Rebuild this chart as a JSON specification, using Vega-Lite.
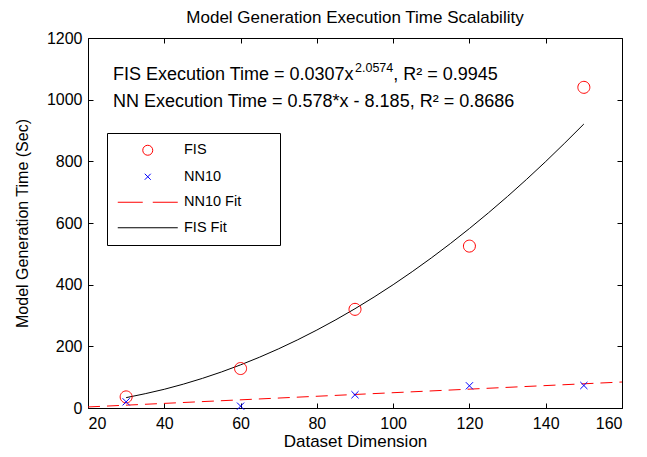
{
  "$schema": "https://vega.github.io/schema/vega-lite/v6.json",
  "width": 534,
  "height": 370,
  "autosize": {"type": "none"},
  "padding": {"left": 88, "top": 38, "right": 25, "bottom": 49},
  "background": "white",
  "title": {
    "text": "Model Generation Execution Time Scalability",
    "font": "Liberation Sans",
    "fontSize": 17,
    "fontWeight": "normal",
    "color": "black",
    "frame": "group",
    "anchor": "middle",
    "baseline": "alphabetic",
    "offset": 13,
    "dy": 23
  },
  "config": {
    "view": {"stroke": "black", "strokeWidth": 1},
    "axis": {
      "grid": false,
      "domain": false,
      "tickColor": "black",
      "tickWidth": 1,
      "labelFont": "Liberation Sans",
      "labelFontSize": 16,
      "labelColor": "black",
      "titleFont": "Liberation Sans",
      "titleFontWeight": "normal",
      "titleColor": "black"
    }
  },
  "data": {
    "values": [
      {"s": "FIS", "x": 30, "y": 36},
      {"s": "FIS", "x": 60, "y": 128},
      {"s": "FIS", "x": 90, "y": 320},
      {"s": "FIS", "x": 120, "y": 525},
      {"s": "FIS", "x": 150, "y": 1040},
      {"s": "NN10", "x": 30, "y": 20},
      {"s": "NN10", "x": 60, "y": 6},
      {"s": "NN10", "x": 90, "y": 43},
      {"s": "NN10", "x": 120, "y": 72},
      {"s": "NN10", "x": 150, "y": 73},
      {"s": "NN10 Fit", "x": 20, "y": 3.4},
      {"s": "NN10 Fit", "x": 160, "y": 84.3},
      {"s": "FIS Fit", "x": 30, "y": 33.6},
      {"s": "FIS Fit", "x": 40, "y": 60.7},
      {"s": "FIS Fit", "x": 50, "y": 96.1},
      {"s": "FIS Fit", "x": 60, "y": 139.9},
      {"s": "FIS Fit", "x": 70, "y": 192.1},
      {"s": "FIS Fit", "x": 80, "y": 252.8},
      {"s": "FIS Fit", "x": 90, "y": 322.0},
      {"s": "FIS Fit", "x": 100, "y": 399.9},
      {"s": "FIS Fit", "x": 110, "y": 486.6},
      {"s": "FIS Fit", "x": 120, "y": 582.1},
      {"s": "FIS Fit", "x": 130, "y": 686.3},
      {"s": "FIS Fit", "x": 140, "y": 799.4},
      {"s": "FIS Fit", "x": 150, "y": 921.0}
    ]
  },
  "resolve": {"axis": {"x": "independent", "y": "independent"}},
  "layer": [
    {
      "transform": [{"filter": "datum.s === 'NN10 Fit'"}],
      "mark": {"type": "line", "color": "#ff0000", "strokeWidth": 1, "strokeDash": [12, 7]},
      "encoding": {
        "x": {
          "field": "x", "type": "quantitative",
          "scale": {"domain": [20, 160], "nice": false, "zero": false},
          "axis": {
            "orient": "bottom",
            "values": [20, 40, 60, 80, 100, 120, 140, 160],
            "format": "d",
            "tickSize": -5,
            "labelPadding": 12,
            "title": "Dataset Dimension",
            "titleFontSize": 17,
            "titlePadding": 2
          }
        },
        "y": {
          "field": "y", "type": "quantitative",
          "scale": {"domain": [0, 1200], "nice": false, "zero": false},
          "axis": {
            "orient": "left",
            "values": [0, 200, 400, 600, 800, 1000, 1200],
            "format": "d",
            "tickSize": -5,
            "labelPadding": 11,
            "title": "Model Generation Time (Sec)",
            "titleFontSize": 16,
            "titlePadding": 16
          }
        }
      }
    },
    {
      "transform": [{"filter": "datum.s === 'FIS Fit'"}],
      "mark": {"type": "line", "color": "#000000", "strokeWidth": 1, "interpolate": "monotone"},
      "encoding": {
        "x": {
          "field": "x", "type": "quantitative",
          "axis": {
            "orient": "top",
            "values": [20, 40, 60, 80, 100, 120, 140, 160],
            "tickSize": -5,
            "labels": false,
            "title": null
          }
        },
        "y": {
          "field": "y", "type": "quantitative",
          "axis": {
            "orient": "right",
            "values": [0, 200, 400, 600, 800, 1000, 1200],
            "tickSize": -5,
            "labels": false,
            "title": null
          }
        }
      }
    },
    {
      "transform": [{"filter": "datum.s === 'FIS' || datum.s === 'NN10'"}],
      "mark": {"type": "point", "filled": false, "size": 144, "strokeWidth": 1, "opacity": 1},
      "encoding": {
        "x": {"field": "x", "type": "quantitative", "axis": null},
        "y": {"field": "y", "type": "quantitative", "axis": null},
        "color": {
          "field": "s", "type": "nominal",
          "scale": {
            "domain": ["FIS", "NN10", "NN10 Fit", "FIS Fit"],
            "range": ["#ff0000", "#0000ff", "#ff0000", "#000000"]
          },
          "legend": {
            "orient": "none", "legendX": 19, "legendY": 95, "title": null,
            "strokeColor": "black", "fillColor": "white", "padding": 10,
            "symbolSize": 100, "symbolStrokeWidth": 1, "symbolOffset": 23.5,
            "labelOffset": 29, "rowPadding": 10.5,
            "labelFont": "Liberation Sans", "labelFontSize": 14.5, "labelColor": "black"
          }
        },
        "shape": {
          "field": "s", "type": "nominal",
          "scale": {
            "domain": ["FIS", "NN10", "NN10 Fit", "FIS Fit"],
            "range": [
              "M1,0A1,1 0 1,1 -1,0A1,1 0 1,1 1,0Z",
              "M-0.6,-0.6L0.6,0.6M0.6,-0.6L-0.6,0.6",
              "M-6,0H-1M1,0H6",
              "M-6,0H6M24,0"
            ]
          },
          "legend": {
            "orient": "none", "legendX": 19, "legendY": 95, "title": null,
            "strokeColor": "black", "fillColor": "white", "padding": 10,
            "symbolSize": 100, "symbolStrokeWidth": 1, "symbolOffset": 23.5,
            "labelOffset": 29, "rowPadding": 10.5,
            "labelFont": "Liberation Sans", "labelFontSize": 14.5, "labelColor": "black"
          }
        }
      }
    },
    {
      "data": {"values": [{}]},
      "mark": {"type": "text", "align": "left", "baseline": "alphabetic", "font": "Liberation Sans", "fontSize": 18, "color": "black"},
      "encoding": {
        "x": {"datum": 26.55, "type": "quantitative", "axis": null},
        "y": {"datum": 1064, "type": "quantitative", "axis": null},
        "text": {"value": "FIS Execution Time = 0.0307x"}
      }
    },
    {
      "data": {"values": [{}]},
      "mark": {"type": "text", "align": "left", "baseline": "alphabetic", "font": "Liberation Sans", "fontSize": 12.5, "color": "black"},
      "encoding": {
        "x": {"datum": 90.0, "type": "quantitative", "axis": null},
        "y": {"datum": 1090, "type": "quantitative", "axis": null},
        "text": {"value": "2.0574"}
      }
    },
    {
      "data": {"values": [{}]},
      "mark": {"type": "text", "align": "left", "baseline": "alphabetic", "font": "Liberation Sans", "fontSize": 18, "color": "black"},
      "encoding": {
        "x": {"datum": 100.0, "type": "quantitative", "axis": null},
        "y": {"datum": 1064, "type": "quantitative", "axis": null},
        "text": {"value": ", R² = 0.9945"}
      }
    },
    {
      "data": {"values": [{}]},
      "mark": {"type": "text", "align": "left", "baseline": "alphabetic", "font": "Liberation Sans", "fontSize": 18, "color": "black"},
      "encoding": {
        "x": {"datum": 26.55, "type": "quantitative", "axis": null},
        "y": {"datum": 976, "type": "quantitative", "axis": null},
        "text": {"value": "NN Execution Time = 0.578*x - 8.185, R² = 0.8686"}
      }
    }
  ]
}
